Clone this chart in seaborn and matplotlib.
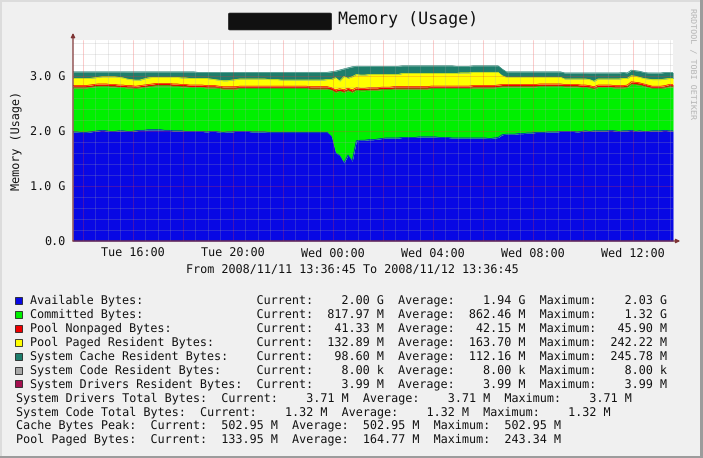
import numpy as np
import pandas as pd
import matplotlib
matplotlib.use("Agg")
import matplotlib.pyplot as plt
import matplotlib.dates as mdates
from matplotlib.patches import Rectangle, FancyBboxPatch
from matplotlib.ticker import FuncFormatter, MultipleLocator
import seaborn as sns

# ---------------- data (GB, 10-minute samples) ----------------
start_time = "2008-11-11 13:36:45"

available = [
    1.98, 1.98, 1.97, 1.97, 1.98, 1.99, 2.00, 2.01, 2.00, 1.99,
    1.99, 2.00, 2.00, 1.99, 1.99, 2.00, 2.01, 2.01, 2.02, 2.02,
    2.02, 2.02, 2.01, 2.01, 2.00, 2.00, 2.00, 1.99, 1.99, 1.99,
    1.99, 1.99, 1.98, 1.99, 1.99, 1.98, 1.97, 1.98, 1.98, 1.99,
    1.99, 1.99, 1.99, 1.98, 1.98, 1.98, 1.98, 1.97, 1.97, 1.97,
    1.97, 1.97, 1.97, 1.97, 1.97, 1.97, 1.97, 1.97, 1.97, 1.97,
    1.97, 1.97,
    1.90, 1.60, 1.55, 1.42, 1.56, 1.45, 1.82,
    1.83, 1.83, 1.84, 1.84, 1.85, 1.86, 1.87, 1.87, 1.87, 1.87,
    1.88, 1.88, 1.88, 1.88, 1.89, 1.89, 1.89, 1.89, 1.89, 1.88,
    1.88, 1.88, 1.87, 1.87, 1.87, 1.87, 1.87, 1.87, 1.87, 1.87,
    1.87, 1.86, 1.87, 1.88,
    1.93, 1.94, 1.94, 1.94, 1.95, 1.95, 1.96, 1.96, 1.97, 1.97,
    1.97, 1.98, 1.98, 1.98, 1.99, 1.99, 1.99, 1.99, 1.98, 1.99,
    2.00, 1.99, 2.00, 2.00, 2.00, 2.00, 2.01, 2.00, 1.99, 2.00,
    2.00, 2.01, 1.99, 2.00, 1.99, 1.99, 2.00, 2.00, 2.00, 2.01,
    2.00, 2.00,
]
committed = [
    0.80, 0.80, 0.81, 0.81, 0.81, 0.81, 0.81, 0.80, 0.81, 0.81,
    0.81, 0.79, 0.79, 0.79, 0.79, 0.77, 0.77, 0.78, 0.78, 0.79,
    0.80, 0.80, 0.81, 0.81, 0.81, 0.81, 0.80, 0.81, 0.80, 0.80,
    0.80, 0.80, 0.80, 0.79, 0.79, 0.79, 0.79, 0.78, 0.78, 0.77,
    0.78, 0.78, 0.78, 0.79, 0.79, 0.79, 0.79, 0.80, 0.80, 0.80,
    0.80, 0.80, 0.80, 0.80, 0.80, 0.80, 0.80, 0.79, 0.79, 0.79,
    0.79, 0.79,
    0.84, 1.10, 1.17, 1.28, 1.17, 1.25, 0.92,
    0.90, 0.90, 0.90, 0.90, 0.89, 0.89, 0.88, 0.88, 0.89, 0.89,
    0.88, 0.88, 0.88, 0.88, 0.87, 0.87, 0.87, 0.88, 0.88, 0.89,
    0.89, 0.89, 0.90, 0.90, 0.90, 0.90, 0.90, 0.91, 0.91, 0.91,
    0.91, 0.92, 0.91, 0.91,
    0.87, 0.86, 0.86, 0.86, 0.85, 0.85, 0.84, 0.84, 0.83, 0.84,
    0.84, 0.83, 0.83, 0.83, 0.82, 0.81, 0.81, 0.81, 0.82, 0.80,
    0.79, 0.79, 0.76, 0.79, 0.79, 0.79, 0.78, 0.78, 0.79, 0.78,
    0.79, 0.84, 0.85, 0.83, 0.82, 0.80, 0.77, 0.77, 0.77, 0.77,
    0.80, 0.80,
]
pool_nonpaged = [
    0.042, 0.042, 0.042, 0.042, 0.042, 0.042, 0.042, 0.042, 0.042, 0.042,
    0.042, 0.042, 0.042, 0.041, 0.041, 0.041, 0.041, 0.042, 0.042, 0.042,
    0.042, 0.042, 0.042, 0.042, 0.042, 0.042, 0.042, 0.042, 0.042, 0.042,
    0.042, 0.042, 0.042, 0.042, 0.042, 0.041, 0.041, 0.041, 0.042, 0.042,
    0.042, 0.042, 0.042, 0.042, 0.042, 0.042, 0.042, 0.042, 0.042, 0.042,
    0.042, 0.042, 0.042, 0.042, 0.042, 0.042, 0.042, 0.042, 0.042, 0.042,
    0.043, 0.043,
    0.044, 0.045, 0.045, 0.046, 0.045, 0.044, 0.044,
    0.043, 0.043, 0.043, 0.043, 0.043, 0.043, 0.043, 0.043, 0.043, 0.043,
    0.043, 0.043, 0.043, 0.043, 0.043, 0.043, 0.043, 0.043, 0.043, 0.043,
    0.043, 0.043, 0.043, 0.043, 0.043, 0.043, 0.043, 0.043, 0.043, 0.043,
    0.043, 0.043, 0.043, 0.043,
    0.042, 0.042, 0.042, 0.042, 0.042, 0.042, 0.042, 0.042, 0.042, 0.042,
    0.042, 0.042, 0.042, 0.042, 0.042, 0.042, 0.042, 0.042, 0.042, 0.042,
    0.042, 0.041, 0.041, 0.042, 0.042, 0.042, 0.042, 0.042, 0.042, 0.042,
    0.042, 0.042, 0.042, 0.042, 0.042, 0.042, 0.041, 0.041, 0.041, 0.041,
    0.041, 0.041,
]
pool_paged_resident = [
    0.13, 0.13, 0.13, 0.13, 0.12, 0.12, 0.12, 0.13, 0.13, 0.14,
    0.14, 0.14, 0.13, 0.12, 0.11, 0.11, 0.10, 0.11, 0.12, 0.12,
    0.11, 0.11, 0.11, 0.11, 0.12, 0.12, 0.12, 0.12, 0.12, 0.12,
    0.12, 0.12, 0.13, 0.12, 0.11, 0.11, 0.11, 0.11, 0.12, 0.13,
    0.13, 0.13, 0.13, 0.13, 0.13, 0.13, 0.13, 0.12, 0.12, 0.12,
    0.11, 0.11, 0.11, 0.11, 0.11, 0.11, 0.11, 0.12, 0.12, 0.12,
    0.12, 0.13,
    0.15, 0.22, 0.14, 0.24, 0.18, 0.24, 0.24,
    0.24, 0.24, 0.24, 0.24, 0.24, 0.23, 0.23, 0.23, 0.22, 0.22,
    0.24, 0.24, 0.24, 0.24, 0.24, 0.24, 0.24, 0.23, 0.23, 0.23,
    0.23, 0.23, 0.23, 0.23, 0.24, 0.24, 0.24, 0.24, 0.24, 0.24,
    0.24, 0.24, 0.24, 0.23,
    0.16, 0.13, 0.13, 0.13, 0.13, 0.13, 0.13, 0.13, 0.13, 0.12,
    0.12, 0.12, 0.12, 0.12, 0.12, 0.10, 0.10, 0.10, 0.10, 0.11,
    0.11, 0.11, 0.10, 0.11, 0.11, 0.11, 0.11, 0.12, 0.12, 0.13,
    0.12, 0.11, 0.11, 0.10, 0.10, 0.11, 0.12, 0.12, 0.12, 0.12,
    0.11, 0.11,
]
system_cache_resident = [
    0.12, 0.12, 0.12, 0.12, 0.12, 0.11, 0.10, 0.09, 0.09, 0.09,
    0.09, 0.10, 0.11, 0.13, 0.14, 0.15, 0.15, 0.13, 0.11, 0.10,
    0.10, 0.10, 0.10, 0.10, 0.10, 0.10, 0.11, 0.11, 0.12, 0.12,
    0.11, 0.11, 0.11, 0.12, 0.13, 0.14, 0.15, 0.15, 0.14, 0.13,
    0.12, 0.12, 0.12, 0.12, 0.12, 0.12, 0.12, 0.13, 0.13, 0.13,
    0.14, 0.14, 0.14, 0.14, 0.14, 0.14, 0.14, 0.14, 0.14, 0.14,
    0.14, 0.13,
    0.14, 0.12, 0.20, 0.14, 0.19, 0.18, 0.15,
    0.16, 0.16, 0.15, 0.15, 0.15, 0.15, 0.15, 0.15, 0.15, 0.15,
    0.14, 0.14, 0.14, 0.14, 0.14, 0.14, 0.14, 0.14, 0.14, 0.14,
    0.14, 0.14, 0.14, 0.13, 0.12, 0.12, 0.12, 0.12, 0.12, 0.12,
    0.12, 0.12, 0.12, 0.12,
    0.12, 0.10, 0.10, 0.10, 0.10, 0.10, 0.10, 0.10, 0.10, 0.10,
    0.10, 0.10, 0.10, 0.10, 0.10, 0.11, 0.11, 0.11, 0.11, 0.11,
    0.11, 0.12, 0.15, 0.11, 0.11, 0.11, 0.11, 0.11, 0.11, 0.11,
    0.10, 0.10, 0.10, 0.11, 0.11, 0.11, 0.12, 0.12, 0.12, 0.12,
    0.11, 0.11,
]

series_names = ["Available Bytes:", "Committed Bytes:", "Pool Nonpaged Bytes:",
                "Pool Paged Resident Bytes:", "System Cache Resident Bytes:",
                "System Code Resident Bytes:", "System Drivers Resident Bytes:"]
series_colors = ["#0808E4", "#00F000", "#EE0000", "#FFFF00", "#1E7E6C",
                 "#A8A8A8", "#A5104F"]
cur_vals = ["2.00 G", "817.97 M", "41.33 M", "132.89 M", "98.60 M", "8.00 k", "3.99 M"]
avg_vals = ["1.94 G", "862.46 M", "42.15 M", "163.70 M", "112.16 M", "8.00 k", "3.99 M"]
max_vals = ["2.03 G", "1.32 G", "45.90 M", "242.22 M", "245.78 M", "8.00 k", "3.99 M"]

extra_names = ["System Drivers Total Bytes:", "System Code Total Bytes:",
               "Cache Bytes Peak:", "Pool Paged Bytes:"]
extra_cur = ["3.71 M", "1.32 M", "502.95 M", "133.95 M"]
extra_avg = ["3.71 M", "1.32 M", "502.95 M", "164.77 M"]
extra_max = ["3.71 M", "1.32 M", "502.95 M", "243.34 M"]

x_tick_hours = [16, 20, 0, 4, 8, 12]
y_ticks = [0.0, 1.0, 2.0, 3.0]

# ---------------- figure ----------------
sns.set_theme(style="white")
plt.rcParams['font.family'] = ['DejaVu Sans Mono', 'DejaVu Sans']
plt.rcParams['text.hinting'] = 'no_hinting'

W, H = 703, 458
BG = "#F0F0F0"
AXC = "#7E3434"
FS = 8.49

def fx(x):
    return x / W

def fy(y):
    return 1 - y / H

fig = plt.figure(figsize=(W / 100, H / 100), dpi=100, facecolor=BG)
ax = fig.add_axes([fx(73), fy(241), 600 / W, 201 / H])
ax.set_facecolor("white")

n = len(available)
times = pd.date_range(start_time, periods=n, freq="10min")
xnum = mdates.date2num(times.to_pydatetime())

layers = [available, committed, pool_nonpaged, pool_paged_resident, system_cache_resident]
ax.stackplot(xnum, *[np.asarray(l) for l in layers],
             colors=series_colors[:5], linewidth=0, zorder=1)
tops = np.cumsum(np.vstack(layers), axis=0)
for k in range(5):
    sns.lineplot(x=xnum, y=tops[k], ax=ax, color=series_colors[k], lw=0.5,
                 zorder=1.2, legend=False)

t0 = mdates.date2num(pd.Timestamp(start_time).to_pydatetime())
ax.set_xlim(t0, t0 + 1.0)
ax.set_ylim(0, 3.65)

ax.xaxis.set_major_locator(mdates.HourLocator(byhour=range(0, 24, 2)))
ax.xaxis.set_minor_locator(mdates.MinuteLocator(byminute=[0, 30]))

def xfmt(v, pos):
    d = mdates.num2date(v)
    return d.strftime("%a %H:%M") if d.hour in x_tick_hours else ""

ax.xaxis.set_major_formatter(FuncFormatter(xfmt))
ax.yaxis.set_major_locator(MultipleLocator(1.0))
ax.yaxis.set_minor_locator(MultipleLocator(0.2))
ax.yaxis.set_major_formatter(FuncFormatter(lambda v, p: "0.0" if v == 0 else f"{v:.1f} G"))

ax.set_axisbelow(False)
ax.grid(True, which="minor", color=(0.66, 0.66, 0.66), alpha=0.27, lw=0.6)
ax.grid(True, which="major", color=(0.95, 0.2, 0.2), alpha=0.3, lw=0.6)

ax.tick_params(axis="x", which="major", length=3, width=0.8, color=AXC,
               pad=2, labelsize=FS, labelcolor="#111111", direction="out")
ax.tick_params(axis="y", which="major", length=4, width=0.8, color=AXC,
               pad=1.5, labelsize=FS, labelcolor="#111111", direction="out")
ax.tick_params(which="minor", length=0)
for s in ax.spines.values():
    s.set_visible(False)

# axes with arrows
ax.annotate("", xy=(1.012, 0), xytext=(0, 0), xycoords="axes fraction",
            arrowprops=dict(arrowstyle="-|>", color=AXC, lw=0.9,
                            mutation_scale=6, shrinkA=0, shrinkB=0),
            annotation_clip=False)
ax.annotate("", xy=(0, 1.035), xytext=(0, 0), xycoords="axes fraction",
            arrowprops=dict(arrowstyle="-|>", color=AXC, lw=0.9,
                            mutation_scale=6, shrinkA=0, shrinkB=0),
            annotation_clip=False)

# ---------------- texts ----------------
fig.patches.append(FancyBboxPatch((fx(230), fy(29)), fx(100), 15 / H,
                                  boxstyle="round,pad=0.002", transform=fig.transFigure,
                                  facecolor="#111111", edgecolor="#111111", lw=0.5))
fig.text(fx(408), fy(20), "Memory (Usage)", ha="center", va="center", fontsize=12,
         color="#111111")
fig.text(fx(16), fy(140), "Memory (Usage)", rotation=90, ha="center", va="center",
         fontsize=FS, color="#111111")
fig.text(fx(352), fy(271), "From 2008/11/11 13:36:45 To 2008/11/12 13:36:45",
         ha="center", va="center", fontsize=FS, color="#111111")
fig.text(fx(692), fy(8), "RRDTOOL / TOBI OETIKER", rotation=-90, ha="center", va="top",
         fontsize=6, color="#B4B4B4")

row_y = 300.5
for i, name in enumerate(series_names):
    y = row_y + 13.9 * i
    fig.patches.append(Rectangle((fx(15), fy(y + 3.5)), 7 / W, 7 / H, transform=fig.transFigure,
                                 facecolor=series_colors[i], edgecolor="#222222", lw=0.6))
    line = f"{name:<32}Current:{cur_vals[i]:>10}  Average:{avg_vals[i]:>10}  Maximum:{max_vals[i]:>10}"
    fig.text(fx(30.5), fy(y), line, ha="left", va="center", fontsize=FS, color="#111111")
for j, name in enumerate(extra_names):
    y = row_y + 13.9 * (7 + j)
    line = f"{name}  Current:{extra_cur[j]:>10}  Average:{extra_avg[j]:>10}  Maximum:{extra_max[j]:>10}"
    fig.text(fx(16), fy(y), line, ha="left", va="center", fontsize=FS, color="#111111")

# 3D frame
fig.patches.append(Rectangle((0, 0), 1, 2 / H, transform=fig.transFigure, facecolor="#9C9C9C", lw=0))
fig.patches.append(Rectangle((1 - 3 / W, 0), 3 / W, 1, transform=fig.transFigure, facecolor="#9C9C9C", lw=0))
fig.patches.append(Rectangle((0, 1 - 2 / H), 1 - 3 / W, 2 / H, transform=fig.transFigure, facecolor="#DCDCDC", lw=0))
fig.patches.append(Rectangle((0, 2 / H), 2 / W, 1 - 4 / H, transform=fig.transFigure, facecolor="#DCDCDC", lw=0))

fig.savefig("out.png", dpi=100, facecolor=BG)
